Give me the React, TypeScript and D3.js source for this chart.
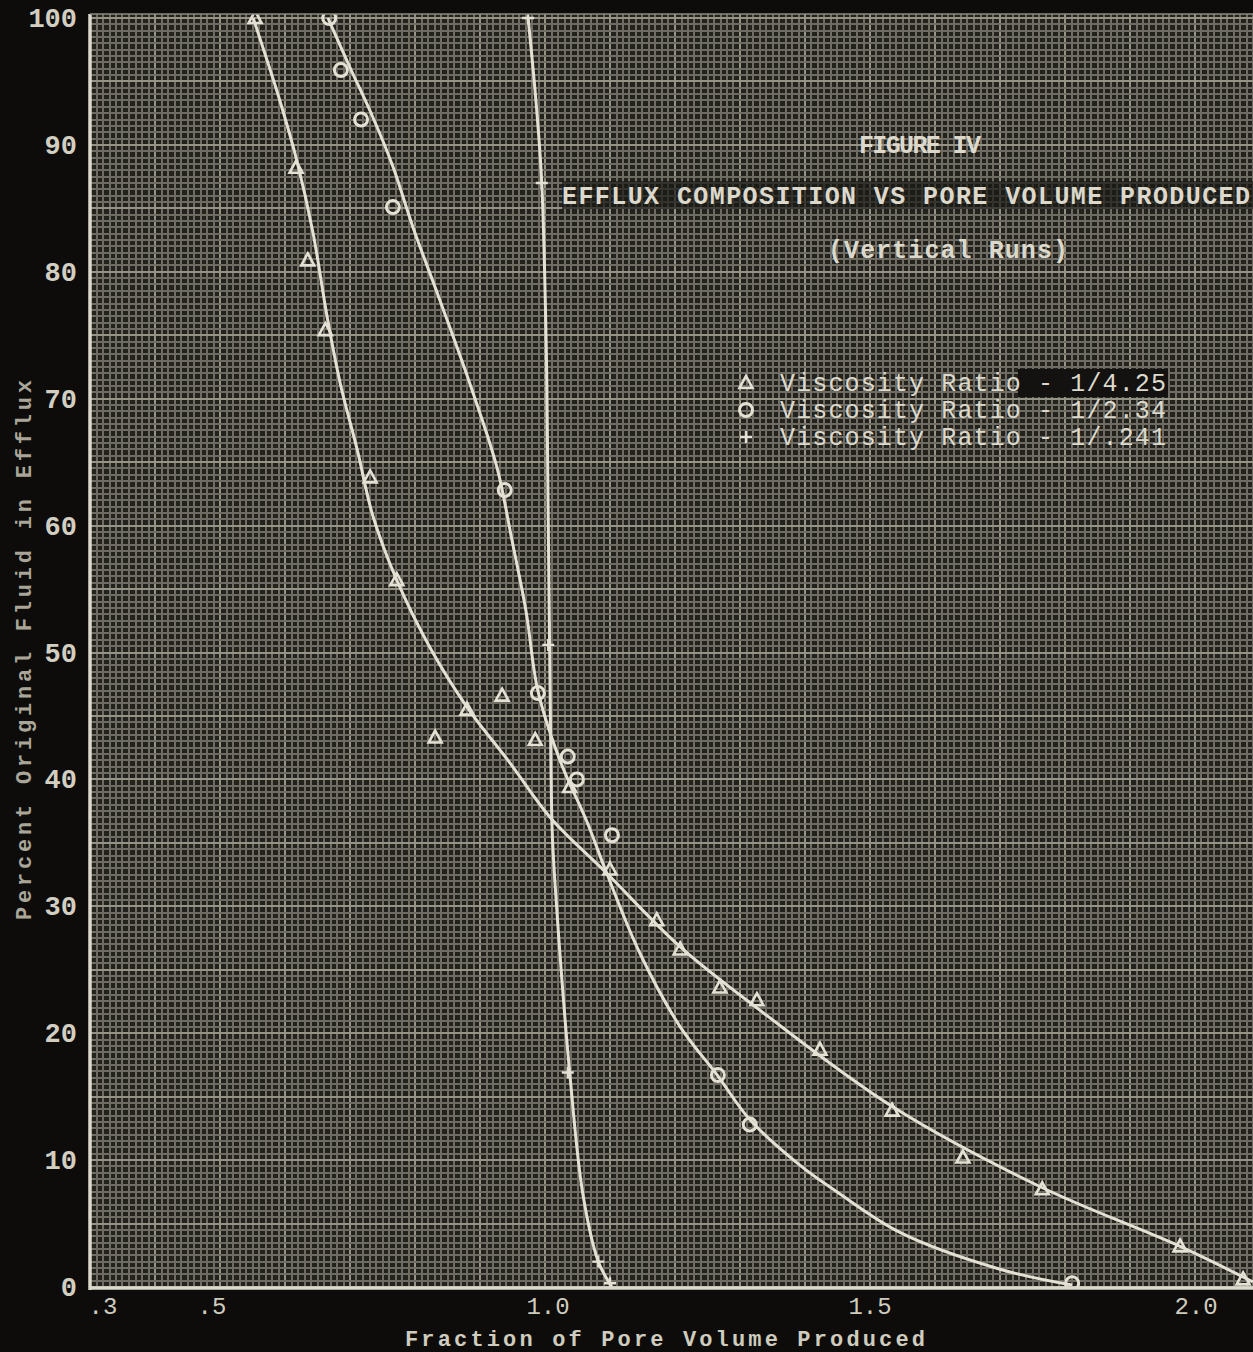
import React, { useEffect, useRef } from "react";
import * as d3 from "d3";

// Viscosity Ratio - 1/4.25 (triangles)
const triPoints: [number, number][] = [
  [0.554, 100], [0.617, 88.2], [0.635, 80.9], [0.662, 75.4], [0.731, 63.8],
  [0.772, 55.7], [0.831, 43.3], [0.88, 45.5], [0.934, 46.6], [0.985, 43.1],
  [1.038, 39.4], [1.1, 32.9], [1.172, 28.9], [1.208, 26.6], [1.269, 23.6],
  [1.326, 22.6], [1.423, 18.7], [1.534, 13.9], [1.643, 10.2], [1.765, 7.7],
  [1.977, 3.2], [2.074, 0.6],
];
const triCurve: [number, number][] = [
  [0.551, 100], [0.592, 93.5], [0.618, 88.8], [0.643, 83.1], [0.665, 76.4],
  [0.685, 71.2], [0.711, 66.0], [0.735, 60.8], [0.772, 55.7], [0.823, 50.4],
  [0.88, 45.7], [0.946, 41.3], [1.008, 37.0], [1.095, 32.6], [1.208, 26.8],
  [1.331, 21.8], [1.535, 14.2], [1.762, 7.9], [1.977, 3.2], [2.089, 0.4],
];

// Viscosity Ratio - 1/2.34 (circles)
const circPoints: [number, number][] = [
  [0.668, 100], [0.686, 95.9], [0.717, 92.0], [0.766, 85.1], [0.938, 62.8],
  [0.989, 46.8], [1.035, 41.8], [1.049, 40.0], [1.103, 35.6], [1.266, 16.7],
  [1.315, 12.8], [1.811, 0.3],
];
const circCurve: [number, number][] = [
  [0.666, 100], [0.7, 96.1], [0.735, 92.2], [0.766, 88.3], [0.797, 83.5],
  [0.838, 77.8], [0.885, 71.1], [0.926, 64.6], [0.949, 58.9], [0.971, 53.2],
  [0.989, 47.0], [1.023, 41.5], [1.065, 36.6], [1.095, 32.6], [1.146, 26.3],
  [1.208, 20.5], [1.265, 16.7], [1.315, 13.2], [1.392, 9.6], [1.449, 7.5],
  [1.546, 4.3], [1.7, 1.4], [1.811, 0.15],
];

// Viscosity Ratio - 1/.241 (plus)
const plusPoints: [number, number][] = [
  [0.974, 100], [0.995, 87.0], [1.005, 50.6], [1.035, 16.9], [1.082, 2.0], [1.1, 0.3],
];
const plusCurve: [number, number][] = [
  [0.974, 100], [0.986, 93.5], [0.995, 87.0], [1.002, 73.8], [1.005, 60.4],
  [1.008, 46.3], [1.011, 36.0], [1.015, 32.1], [1.026, 24.2], [1.038, 16.9],
  [1.058, 7.4], [1.082, 2.0], [1.103, 0],
];

const xTicks = [0.3, 0.5, 1.0, 1.5, 2.0];
const xTickLabels = [".3", ".5", "1.0", "1.5", "2.0"];
const yTicks = [0, 10, 20, 30, 40, 50, 60, 70, 80, 90, 100];
const legendLabels = [
  "Viscosity Ratio - 1/4.25",
  "Viscosity Ratio - 1/2.34",
  "Viscosity Ratio - 1/.241",
];

const W = 1253;
const H = 1352;
const FONT = "'Liberation Mono', 'DejaVu Sans Mono', monospace";
const INK = "#dcd9cc";

const App = () => {
  const ref = useRef<SVGSVGElement | null>(null);

  useEffect(() => {
    document.body.style.margin = "0";
    const svg = d3.select(ref.current);
    svg.selectAll("*").remove();

    const left = 90, top = 14, bottom = 1288;
    const x = d3.scaleLinear().domain([0.3, 2.1]).range([90, 1260]);
    const y = d3.scaleLinear().domain([0, 100]).range([1287, 18]);

    svg.append("rect").attr("width", W).attr("height", H).attr("fill", "#0d0c0a");

    svg.append("defs").append("clipPath").attr("id", "plot")
      .append("rect").attr("x", left).attr("y", top)
      .attr("width", W - left).attr("height", bottom - top);

    const plot = svg.append("g").attr("clip-path", "url(#plot)");
    plot.append("rect").attr("x", left).attr("y", top)
      .attr("width", W - left).attr("height", bottom - top).attr("fill", "#23221d");

    // graph paper: fine every 0.01 / 0.5, heavier every 10 cells
    const xs = d3.range(30, 212).map((i) => i / 100);
    const ys = d3.range(-2, 204).map((i) => i / 2);
    const grid = plot.append("g").attr("shape-rendering", "crispEdges");
    grid.selectAll(".gx").data(xs).enter().append("line")
      .attr("x1", (d) => Math.round(x(d))).attr("x2", (d) => Math.round(x(d)))
      .attr("y1", top).attr("y2", bottom)
      .attr("stroke", (d) => (Math.round(d * 100) % 10 === 0 ? "#959286" : "#6f6d63"))
      .attr("stroke-width", 2);
    grid.selectAll(".gy").data(ys).enter().append("line")
      .attr("x1", left).attr("x2", W)
      .attr("y1", (d) => Math.round(y(d))).attr("y2", (d) => Math.round(y(d)))
      .attr("stroke", (d) => (Math.round(d * 2) % 10 === 0 ? "#959286" : "#6f6d63"))
      .attr("stroke-width", 2);

    // dark patches behind typed text
    plot.append("rect").attr("x", 562).attr("y", 181).attr("width", 700).attr("height", 28)
      .attr("fill", "#1a1916").attr("opacity", 0.7);
    plot.append("rect").attr("x", 1018).attr("y", 369).attr("width", 150).attr("height", 28)
      .attr("fill", "#131210");

    // axes lines
    svg.append("line").attr("x1", left).attr("x2", left).attr("y1", top).attr("y2", bottom + 2)
      .attr("stroke", INK).attr("stroke-width", 3.5);
    svg.append("line").attr("x1", left).attr("x2", W).attr("y1", bottom).attr("y2", bottom)
      .attr("stroke", INK).attr("stroke-width", 3.5);
    svg.append("line").attr("x1", left).attr("x2", W).attr("y1", top).attr("y2", top)
      .attr("stroke", "#8d8b80").attr("stroke-width", 1.5);

    // curves
    const line = d3.line<[number, number]>()
      .x((d) => x(d[0])).y((d) => y(d[1]))
      .curve(d3.curveCatmullRom.alpha(0.5));
    [triCurve, circCurve, plusCurve].forEach((c) => {
      plot.append("path").attr("d", line(c)).attr("fill", "none")
        .attr("stroke", "#e4e1d4").attr("stroke-width", 3);
    });

    // markers
    const tri = (g: any, cx: number, cy: number) =>
      g.append("path")
        .attr("d", `M${cx},${cy - 7}L${cx + 6.5},${cy + 5}L${cx - 6.5},${cy + 5}Z`)
        .attr("fill", "none").attr("stroke", "#e4e1d4").attr("stroke-width", 2.6);
    const circ = (g: any, cx: number, cy: number) =>
      g.append("circle").attr("cx", cx).attr("cy", cy).attr("r", 6.5)
        .attr("fill", "none").attr("stroke", "#e4e1d4").attr("stroke-width", 3);
    const plus = (g: any, cx: number, cy: number) =>
      g.append("path")
        .attr("d", `M${cx - 6},${cy}H${cx + 6}M${cx},${cy - 6}V${cy + 6}`)
        .attr("stroke", "#e4e1d4").attr("stroke-width", 2.4);

    const mk = plot.append("g");
    triPoints.forEach((d) => tri(mk, x(d[0]), y(d[1])));
    circPoints.forEach((d) => circ(mk, x(d[0]), y(d[1])));
    plusPoints.forEach((d) => plus(mk, x(d[0]), y(d[1])));

    // tick labels
    svg.append("g").selectAll("text").data(yTicks).enter().append("text")
      .attr("x", 77).attr("y", (d) => y(d) + 9)
      .attr("text-anchor", "end").attr("font-family", FONT).attr("font-weight", "bold")
      .attr("font-size", 27).attr("fill", "#d2cfc2").text((d) => d);
    const xLabelPos = [103, 212, 548, 870, 1196];
    svg.append("g").selectAll("text").data(xTicks).enter().append("text")
      .attr("x", (d, i) => xLabelPos[i]).attr("y", 1314)
      .attr("text-anchor", "middle").attr("font-family", FONT)
      .attr("font-size", 24).attr("fill", "#cfccbf").text((d, i) => xTickLabels[i]);

    // axis titles
    svg.append("text").attr("x", 665).attr("y", 1346).attr("text-anchor", "middle")
      .attr("font-family", FONT).attr("font-size", 22).attr("font-weight", "bold")
      .attr("fill", "#cfccbf").attr("textLength", 520).attr("lengthAdjust", "spacing")
      .text("Fraction of Pore Volume Produced");
    svg.append("text").attr("transform", "translate(31,650) rotate(-90)")
      .attr("text-anchor", "middle").attr("font-family", FONT).attr("font-size", 22)
      .attr("font-weight", "bold")
      .attr("fill", "#a9a699").attr("textLength", 540).attr("lengthAdjust", "spacing")
      .text("Percent Original Fluid in Efflux");

    // titles
    const title = [
      { t: "FIGURE IV", cx: 920, cy: 153, w: 122 },
      { t: "EFFLUX COMPOSITION VS PORE VOLUME PRODUCED", cx: 906, cy: 204, w: 688 },
      { t: "(Vertical Runs)", cx: 948, cy: 258, w: 240 },
    ];
    title.forEach((d) => {
      svg.append("text").attr("x", d.cx).attr("y", d.cy).attr("text-anchor", "middle")
        .attr("font-family", FONT).attr("font-size", 25).attr("font-weight", "bold")
        .attr("fill", INK).attr("textLength", d.w).attr("lengthAdjust", "spacing")
        .text(d.t);
    });

    // legend
    const lg = svg.append("g");
    const markers = [tri, circ, plus];
    legendLabels.forEach((t, i) => {
      const cy = 383 + i * 27;
      markers[i](lg, 746, cy);
      lg.append("text").attr("x", 780).attr("y", cy + 8).attr("font-family", FONT)
        .attr("font-size", 25).attr("fill", INK).attr("textLength", 386)
        .attr("lengthAdjust", "spacing").text(t);
    });
  }, []);

  return (
    <svg ref={ref} width={W} height={H}
      style={{ display: "block", position: "absolute", left: 0, top: 0 }} />
  );
};

export default App;
